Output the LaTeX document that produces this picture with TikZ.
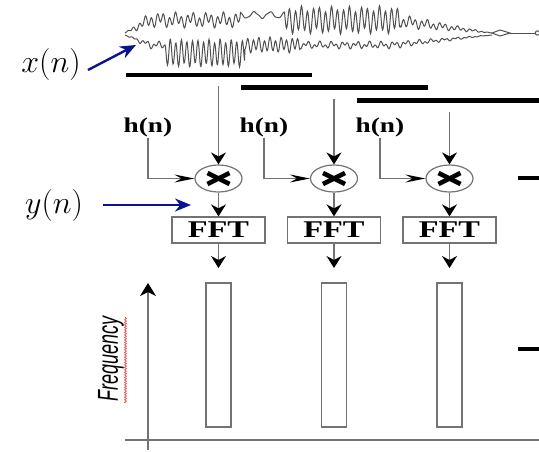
\RequirePackage{fix-cm}
\documentclass[tikz,border=0pt]{standalone}
\usepackage{fontspec}
\usepackage{graphicx}
\newfontfamily\serifb{Liberation Serif}
\newfontfamily\sansf{Liberation Sans}
\usetikzlibrary{arrows.meta,shapes.geometric,decorations.pathmorphing,calc}
\definecolor{linegray}{RGB}{115,115,115}
\definecolor{wavegray}{RGB}{80,80,80}
\definecolor{navyblue}{RGB}{10,20,140}
\tikzset{
  ln/.style={draw=linegray,line width=1.3pt},
  darr/.style={ln,-{Stealth[length=12pt,width=15pt,inset=4pt,color=black]}},
  rarr/.style={ln,-{Stealth[length=20pt,width=8pt,inset=7pt,color=black]}},
  barline/.style={line width=4.5pt,black},
  bluearr/.style={draw=navyblue,line width=2.4pt,-{Stealth[length=16pt,width=13pt,color=navyblue]}},
  mult/.style={ellipse,draw=linegray,line width=1.2pt,minimum width=47pt,minimum height=27pt,inner sep=0pt},
  fftbox/.style={draw=linegray,line width=1.3pt,minimum width=93pt,minimum height=26pt,inner sep=0pt},
  specbox/.style={draw=linegray,line width=1.3pt,minimum width=25pt,minimum height=144pt,inner sep=0pt},
  mathlabel/.style={inner sep=0pt,font=\fontsize{32}{36}\selectfont},
  wave/.style={draw=wavegray,line width=1pt},
}
\newcommand{\hntext}{\scalebox{1.3}[1]{\serifb\bfseries\fontsize{21}{23}\selectfont h(n)}}
\newcommand{\ffttext}{\scalebox{1.35}[1]{\serifb\bfseries\fontsize{24}{26}\selectfont FFT}}
\newcommand{\mycross}[1]{%
  \draw[black,line width=4.5pt] ($(#1)+(-11,-5.5)$) -- ($(#1)+(11,5.5)$);
  \draw[black,line width=4.5pt] ($(#1)+(-11,5.5)$) -- ($(#1)+(11,-5.5)$);}
\begin{document}
\begin{tikzpicture}[x=1pt,y=-1pt]
\useasboundingbox (0,0) rectangle (539,451);
% waveform
\draw[wave] plot[domain=125:492,samples=735]
  (\x,{33 - min(1,(\x-125)/25)*min(1,(492-\x)/100)*(13 + 5*(\x>240)*(\x<285)
   + (5 - 4.5*(\x>240)*(\x<285) + 6*(\x>285)*(\x<400))*sin(60*mod(\x,6)) + 3*sin(23*mod(\x,360)))});
\draw[wave] plot[domain=125:492,samples=735]
  (\x,{35 + min(1,(\x-125)/25)*min(1,(492-\x)/100)*(10 + 8*(\x>165)*(\x<245)
   + (2 + 10*(\x>165)*(\x<245) + 4*(\x>=245)*(\x<300))*sin(65*mod(\x,72)) + 2*sin(29*mod(\x,360)))});
\draw[wave] (492,33) -- (500,30) -- (510,33) -- (500,36) -- cycle;
\draw[wave] (510,33) -- (535,33);
\draw[wave] (537.5,33) circle (2.2);
% window bars
\draw[barline] (126,75) -- (312,75);
\draw[barline] (241,87.5) -- (428,87.5);
\draw[barline] (357,100.5) -- (539,100.5);
% right dashes
\draw[line width=3.5pt,black] (518,178) -- (539,178);
\draw[line width=3.5pt,black] (518,349) -- (539,349);
% columns
\foreach \i/\cx/\hx/\ty in {1/218.5/148/86,2/334/264/99,3/449.5/380/112}{
  \node[mult] (m\i) at (\cx,178.5) {};
  \mycross{m\i}
  \coordinate (t\i) at (\cx,\ty);
  \node[inner sep=1pt] (h\i) at (\hx,127) {\hntext};
  \node[fftbox] (f\i) at (\cx,230) {\ffttext};
  \coordinate (a\i) at (\cx,268);
  \node[specbox] (r\i) at (\cx,355) {};
  \draw[darr] (t\i) -- (m\i.north);
  \draw[rarr] (h\i.south) |- (m\i.west);
  \draw[darr] (m\i.south) -- (f\i.north);
  \draw[darr] (f\i.south) -- (a\i);
}
% axes
\coordinate (ax0) at (148,450);
\coordinate (ax1) at (148,283);
\coordinate (hx0) at (125,440);
\coordinate (hx1) at (539,440);
\draw[ln] (hx0) -- (hx1);
\draw[ln,-{Stealth[length=13pt,width=16pt,inset=4pt,color=black]}] (ax0) -- (ax1);
\node[rotate=90,inner sep=0pt] (freq) at (111,359)
  {\scalebox{1}[1.6]{\sansf\itshape\fontsize{18}{20}\selectfont Frequency}};
\coordinate (sq0) at (125.5,403);
\coordinate (sq1) at (125.5,317);
\draw[red!80!white,line width=0.6pt,decorate,decoration={zigzag,segment length=2.5pt,amplitude=1pt}] (sq0) -- (sq1);
% labels
\node[mathlabel] (xl) at (51,64) {$x(n)$};
\node[mathlabel] (yl) at (54,205) {$y(n)$};
\coordinate (xs) at (88,70);
\coordinate (ys) at (103,205);
\coordinate (xt) at (136,45);
\coordinate (yt) at (191,205);
\draw[bluearr] (xs) -- (xt);
\draw[bluearr] (ys) -- (yt);
\end{tikzpicture}
\end{document}
